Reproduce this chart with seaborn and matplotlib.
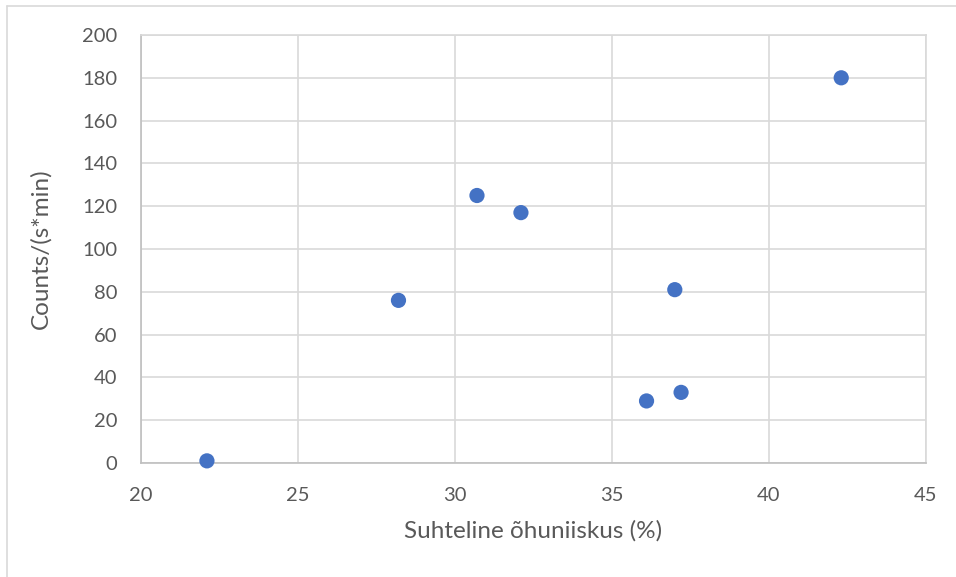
import matplotlib
matplotlib.use("Agg")
import matplotlib.pyplot as plt
import seaborn as sns
import pandas as pd
from matplotlib.lines import Line2D

humidity = [22.1, 28.2, 30.7, 32.1, 36.1, 37.0, 37.2, 42.3]
counts = [1, 76, 125, 117, 29, 81, 33, 180]
x_ticks = [20, 25, 30, 35, 40, 45]
y_ticks = [0, 20, 40, 60, 80, 100, 120, 140, 160, 180, 200]
x_label = "Suhteline õhuniiskus (%)"
y_label = "Counts/(s*min)"

df = pd.DataFrame({"x": humidity, "y": counts})

sns.set_theme(style="white")
plt.rcParams["font.family"] = ["Lato", "DejaVu Sans"]

fig = plt.figure(figsize=(9.56, 5.77), dpi=100)
ax = fig.add_axes([141/956, 1-463/577, (926-141)/956, (463-35)/577])

sns.scatterplot(data=df, x="x", y="y", ax=ax, s=120, color="#4472C4",
                edgecolor="none", zorder=3, clip_on=False)

ax.set_xlim(20, 45)
ax.set_ylim(0, 200)
ax.set_xticks(x_ticks)
ax.set_yticks(y_ticks)
ax.grid(True, color="#d9d9d9", linewidth=1.2)
ax.set_axisbelow(True)
for side in ["top", "right"]:
    ax.spines[side].set_visible(True)
    ax.spines[side].set_color("#d9d9d9")
    ax.spines[side].set_linewidth(1.2)
for side in ["left", "bottom"]:
    ax.spines[side].set_color("#bfbfbf")
    ax.spines[side].set_linewidth(1.2)

ax.tick_params(axis="both", length=0, labelsize=14.5, colors="#595959")
ax.tick_params(axis="x", pad=17)
ax.tick_params(axis="y", pad=17)
ax.set_xlabel(x_label, fontsize=17.5, color="#595959", labelpad=12)
ax.set_ylabel(y_label, fontsize=17.5, color="#595959", labelpad=22)

# figure border (chart area outline)
fig.add_artist(Line2D([7/956, 7/956], [0, 1-6/577], transform=fig.transFigure,
                      color="#d9d9d9", linewidth=1.2))
fig.add_artist(Line2D([7/956, 1], [1-6/577, 1-6/577], transform=fig.transFigure,
                      color="#d9d9d9", linewidth=1.2))

fig.savefig("out.png", dpi=100)
